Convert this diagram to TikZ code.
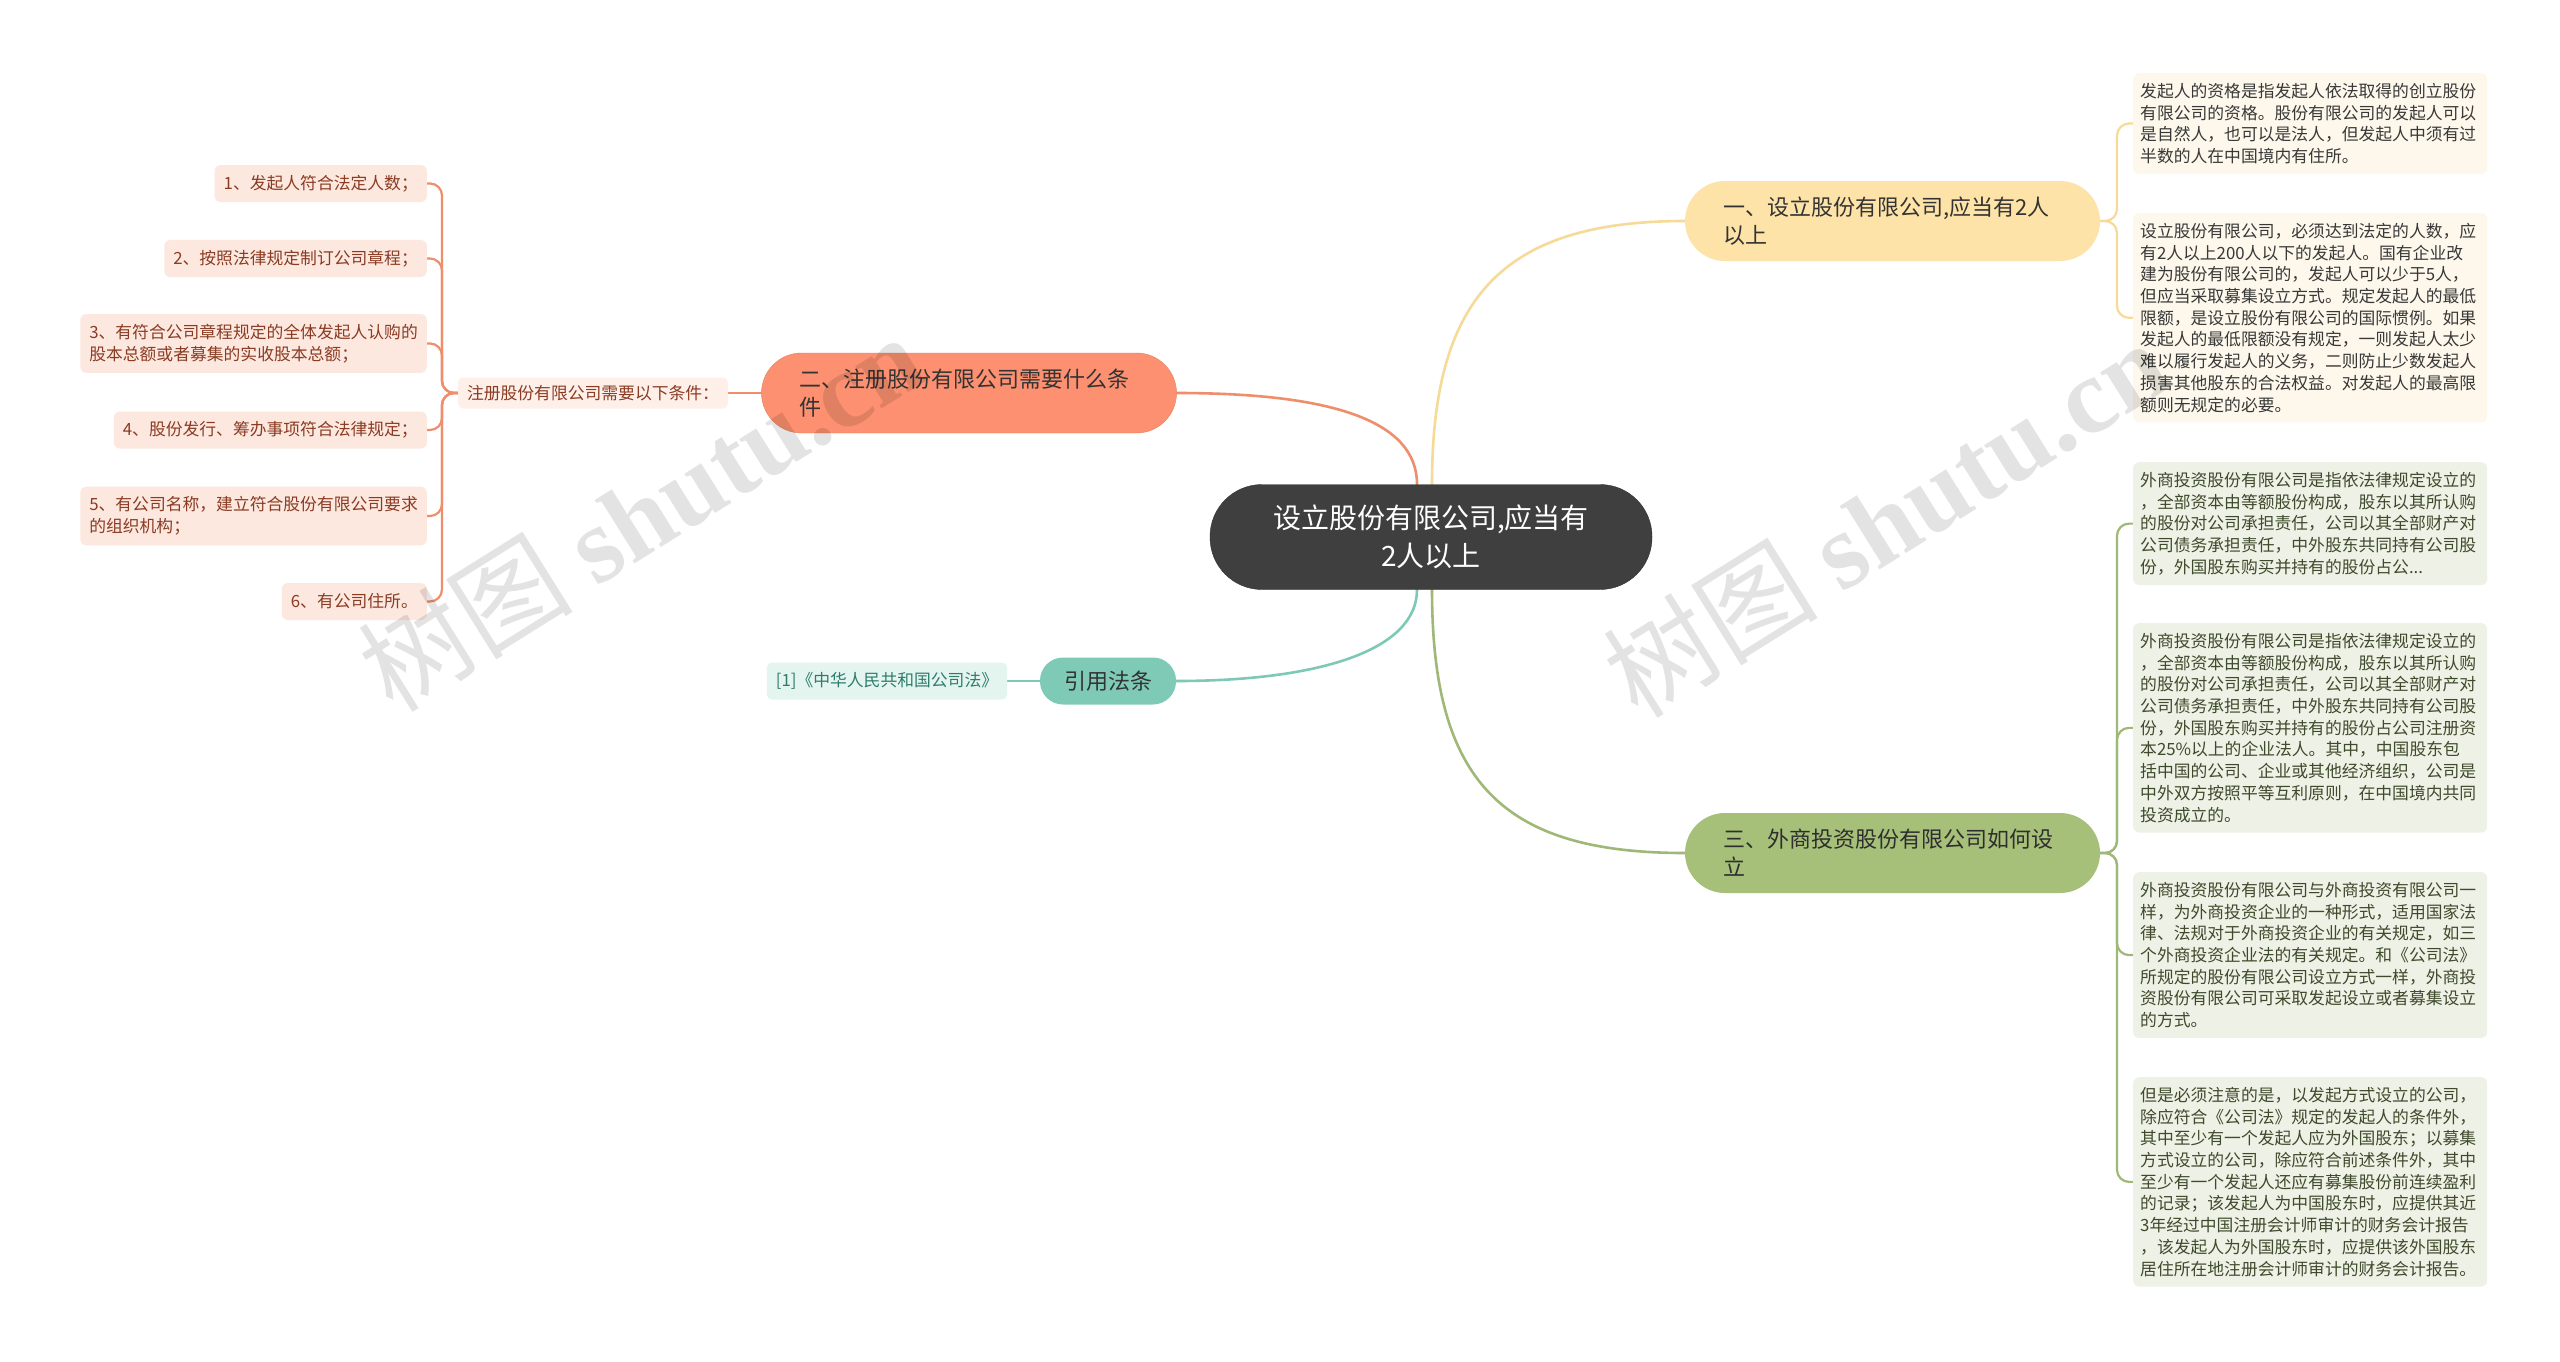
\documentclass[tikz,border=0pt]{standalone}
\usepackage{fontspec}
\setmainfont{Noto Sans CJK SC}
\newfontfamily\wmfont{Liberation Serif}
\usetikzlibrary{calc}
\pgfdeclarelayer{bg}
\pgfdeclarelayer{paper}
\pgfsetlayers{paper,bg,main}
\definecolor{rootfill}{HTML}{3F3F3F}
\definecolor{bonefill}{HTML}{FDE3A7}
\definecolor{btwofill}{HTML}{FC9070}
\definecolor{bthreefill}{HTML}{A6BF79}
\definecolor{citefill}{HTML}{7ECAB6}
\definecolor{lone}{HTML}{F6DA98}
\definecolor{ltwo}{HTML}{EE8E6C}
\definecolor{lthree}{HTML}{A0B877}
\definecolor{lcite}{HTML}{7EC9B5}
\definecolor{yleaffill}{HTML}{FDF8EB}
\definecolor{gleaffill}{HTML}{EEF1E5}
\definecolor{gleaftext}{HTML}{3E4A2C}
\definecolor{pleaffill}{HTML}{FDE8E0}
\definecolor{pleaftext}{HTML}{8A3B22}
\definecolor{tleaffill}{HTML}{E4F4EF}
\definecolor{tleaftext}{HTML}{2E7D6B}
\tikzset{
  rootbox/.style={fill=rootfill, draw=rootfill!80!black, rounded corners=52pt,
    minimum width=442pt, minimum height=105pt, text=white, align=center,
    inner sep=0pt, font=\fontsize{28}{38}\selectfont},
  branchbox/.style={rounded corners=40pt, minimum height=80pt, text width=339pt,
    inner xsep=38pt, inner ysep=0pt, align=left, font=\fontsize{22}{28}\selectfont},
  citebox/.style={fill=citefill, rounded corners=23pt, minimum width=136pt,
    minimum height=47pt, inner sep=0pt, text=black!80, font=\fontsize{22}{28}\selectfont},
  rleaf/.style={rounded corners=6pt, text width=340pt, inner xsep=7pt, inner ysep=10pt,
    align=left, anchor=north west, font=\fontsize{16.8}{21.7}\selectfont},
  yleaf/.style={rleaf, fill=yleaffill, text=black!78},
  gleaf/.style={rleaf, fill=gleaffill, text=gleaftext},
  pleaf/.style={fill=pleaffill, text=pleaftext, rounded corners=6pt, inner xsep=9pt,
    inner ysep=10pt, minimum height=37pt, align=left, anchor=east,
    font=\fontsize{16.8}{21.7}\selectfont},
  conn/.style={line width=2.6pt, line cap=round},
  wm/.style={rotate=32, text=black, opacity=0.11, inner sep=0pt}
}
\begin{document}
\begin{tikzpicture}[x=1pt,y=-1pt]
\useasboundingbox (0,0) rectangle (2560,1361);
\begin{pgfonlayer}{paper}
  \fill[white] (0,0) rectangle (2560,1361);
\end{pgfonlayer}

% root and branches
\node[rootbox] (root) at (1431,537) {设立股份有限公司,应当有\\2人以上};
\node[branchbox, fill=bonefill, text=black!80] (b1) at (1892.5,221) {一、设立股份有限公司,应当有2人\\以上};
\node[branchbox, fill=btwofill, draw=btwofill!90!black, text=black!80] (b2) at (969,393) {二、注册股份有限公司需要什么条\\件};
\node[branchbox, fill=bthreefill, text=black!82] (b3) at (1892.5,853) {三、外商投资股份有限公司如何设\\立};
\node[citebox] (b4) at (1108,681) {引用法条};

% right leaves of branch one
\node[yleaf] (r1) at (2133,73) {发起人的资格是指发起人依法取得的创立股份\\有限公司的资格。股份有限公司的发起人可以\\是自然人，也可以是法人，但发起人中须有过\\半数的人在中国境内有住所。};
\node[yleaf] (r2) at (2133,213) {设立股份有限公司，必须达到法定的人数，应\\有2人以上200人以下的发起人。国有企业改\\建为股份有限公司的，发起人可以少于5人，\\但应当采取募集设立方式。规定发起人的最低\\限额，是设立股份有限公司的国际惯例。如果\\发起人的最低限额没有规定，一则发起人太少\\难以履行发起人的义务，二则防止少数发起人\\损害其他股东的合法权益。对发起人的最高限\\额则无规定的必要。};

% right leaves of branch three
\node[gleaf] (r3) at (2133,462) {外商投资股份有限公司是指依法律规定设立的\\，全部资本由等额股份构成，股东以其所认购\\的股份对公司承担责任，公司以其全部财产对\\公司债务承担责任，中外股东共同持有公司股\\份，外国股东购买并持有的股份占公...};
\node[gleaf] (r4) at (2133,623) {外商投资股份有限公司是指依法律规定设立的\\，全部资本由等额股份构成，股东以其所认购\\的股份对公司承担责任，公司以其全部财产对\\公司债务承担责任，中外股东共同持有公司股\\份，外国股东购买并持有的股份占公司注册资\\本25\%以上的企业法人。其中，中国股东包\\括中国的公司、企业或其他经济组织，公司是\\中外双方按照平等互利原则，在中国境内共同\\投资成立的。};
\node[gleaf] (r5) at (2133,872) {外商投资股份有限公司与外商投资有限公司一\\样，为外商投资企业的一种形式，适用国家法\\律、法规对于外商投资企业的有关规定，如三\\个外商投资企业法的有关规定。和《公司法》\\所规定的股份有限公司设立方式一样，外商投\\资股份有限公司可采取发起设立或者募集设立\\的方式。};
\node[gleaf] (r6) at (2133,1077) {但是必须注意的是，以发起方式设立的公司，\\除应符合《公司法》规定的发起人的条件外，\\其中至少有一个发起人应为外国股东；以募集\\方式设立的公司，除应符合前述条件外，其中\\至少有一个发起人还应有募集股份前连续盈利\\的记录；该发起人为中国股东时，应提供其近\\3年经过中国注册会计师审计的财务会计报告\\，该发起人为外国股东时，应提供该外国股东\\居住所在地注册会计师审计的财务会计报告。};

% left side
\node[fill=pleaffill!70!white, text=pleaftext, rounded corners=5pt, inner xsep=9pt,
  minimum height=31pt, font=\fontsize{16.8}{21.7}\selectfont] (cond) at (593,393) {注册股份有限公司需要以下条件：};
\node[pleaf] (l1) at (427,183.5) {1、发起人符合法定人数；};
\node[pleaf] (l2) at (427,258.5) {2、按照法律规定制订公司章程；};
\node[pleaf] (l3) at (427,343.5) {3、有符合公司章程规定的全体发起人认购的\\股本总额或者募集的实收股本总额；};
\node[pleaf] (l4) at (427,430) {4、股份发行、筹办事项符合法律规定；};
\node[pleaf] (l5) at (427,516) {5、有公司名称，建立符合股份有限公司要求\\的组织机构；};
\node[pleaf] (l6) at (427,601.5) {6、有公司住所。};

\node[fill=tleaffill, text=tleaftext, rounded corners=5pt, inner xsep=9pt,
  minimum height=37pt, font=\fontsize{16.8}{21.7}\selectfont] (cite) at (887,681) {[1]《中华人民共和国公司法》};

\coordinate (jr1) at (2117,221);
\coordinate (jr3) at (2117,853);
\coordinate (jl) at (442,393);

\begin{pgfonlayer}{bg}
  \draw[conn, lone] ([xshift=1pt]root.north) .. controls (1432,300) and (1500,221) .. (b1.west);
  \draw[conn, ltwo] ([xshift=-14pt]root.north) .. controls (1417,420) and (1330,393) .. (b2.east);
  \draw[conn, lcite] ([xshift=-14pt]root.south) .. controls (1417,650) and (1320,681) .. (b4.east);
  \draw[conn, lthree] ([xshift=1pt]root.south) .. controls (1432,780) and (1500,853) .. (b3.west);

  \foreach \n in {r1,r2}
    \draw[conn, lone, line width=2.2pt, rounded corners=12pt] (b1.east) -- (jr1) |- (\n.west);
  \foreach \n in {r3,r4,r5,r6}
    \draw[conn, lthree, line width=2.2pt, rounded corners=12pt] (b3.east) -- (jr3) |- (\n.west);

  \draw[conn, ltwo, line width=2.2pt] (b2.west) -- (cond.east);
  \foreach \n in {l1,l2,l3,l4,l5,l6}
    \draw[conn, ltwo, line width=2.2pt, rounded corners=12pt] (cond.west) -- (jl) |- (\n.east);

  \draw[conn, lcite, line width=2.2pt] (b4.west) -- (cite.east);
\end{pgfonlayer}

% watermarks
\node[wm] (wma) at (640,512) {\fontsize{108}{112}\selectfont 树图 {\wmfont\bfseries shutu.cn}};
\node[wm] (wmb) at (1885,518) {\fontsize{108}{112}\selectfont 树图 {\wmfont\bfseries shutu.cn}};
\end{tikzpicture}
\end{document}
